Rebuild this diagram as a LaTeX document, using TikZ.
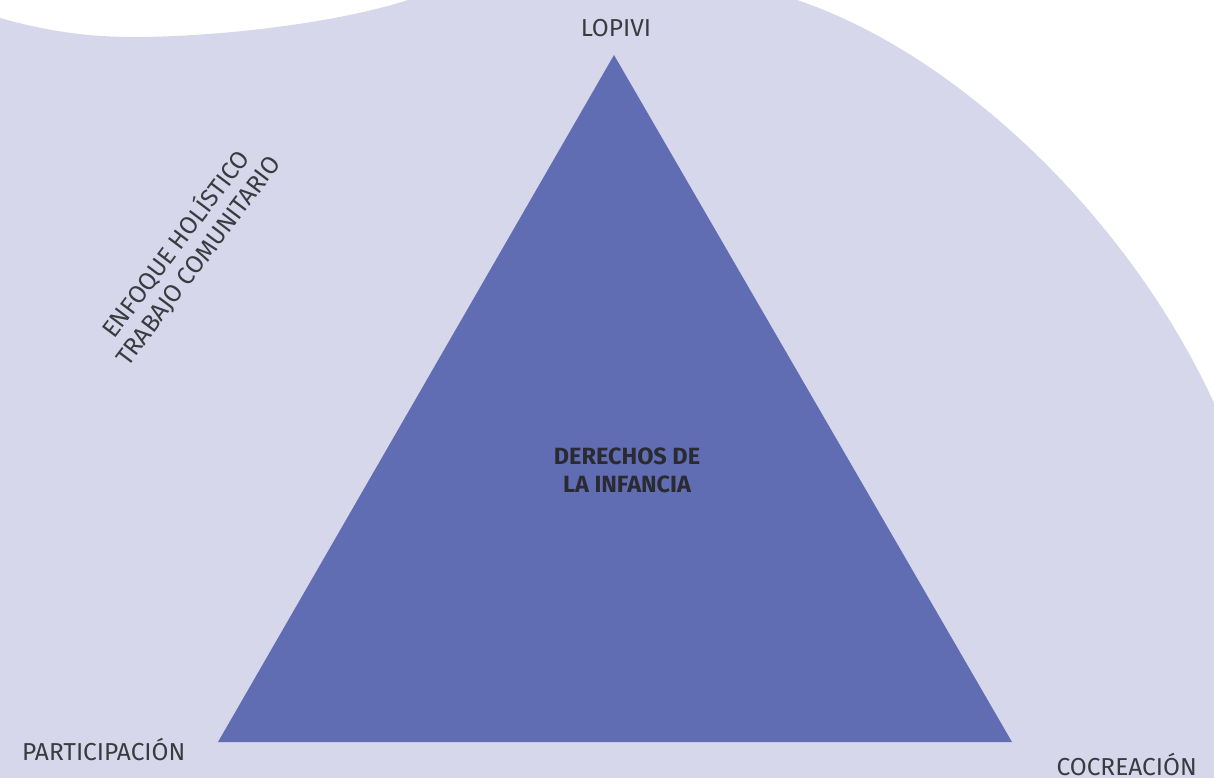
\documentclass[tikz,border=0pt]{standalone}
\usepackage{fontspec}
\setmainfont{Fira Sans}
\definecolor{blob}{HTML}{D7D7EC}
\definecolor{tri}{HTML}{616DB3}
\definecolor{txt}{HTML}{3A3A3F}
\definecolor{txtb}{HTML}{2A2A33}
\begin{document}
\begin{tikzpicture}[x=1pt,y=-1pt,
  lbl/.style={text=txt, font=\fontsize{24.5}{28}\selectfont, inner sep=0pt},
  blbl/.style={text=txtb, font=\fontsize{23.5}{28}\selectfont\bfseries, inner sep=0pt, align=center}]
\useasboundingbox (0,0) rectangle (1214,778);
\fill[white] (0,0) rectangle (1214,778);
\fill[blob] (0,18) .. controls (50,32) and (90,37) .. (134,37)
  .. controls (210,37) and (330,25) .. (408,0) -- (797,0)
  .. controls (960,55) and (1130,220) .. (1214,403)
  -- (1214,778) -- (0,778) -- cycle;
\coordinate (apex) at (614,55);
\coordinate (bl) at (218,742);
\coordinate (br) at (1012,742);
\fill[tri] (apex) -- (bl) -- (br) -- cycle;
\node[lbl, anchor=base] (lopivi) at (616,37) {LOPIVI};
\node[lbl, anchor=base west] (part) at (22,760) {PARTICIPACIÓN};
\node[lbl, anchor=base east] (cocr) at (1197,775) {COCREACIÓN};
\node[blbl] (der) at (627,470) {DERECHOS DE\\LA INFANCIA};
\node[lbl, align=center, rotate=53] (enf) at (186,252) {ENFOQUE HOLÍSTICO\\TRABAJO COMUNITARIO};
\end{tikzpicture}
\end{document}
